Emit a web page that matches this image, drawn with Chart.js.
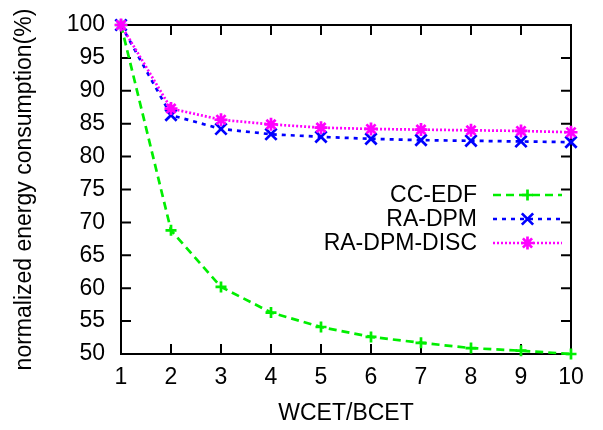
<!DOCTYPE html>
<html>
<head>
<meta charset="utf-8">
<script src="https://cdn.jsdelivr.net/npm/chart.js@4"></script>
<style>
  html, body { margin: 0; padding: 0; background: #fff; }
  #wrap { width: 603px; height: 430px; }
</style>
</head>
<body>
<div id="wrap"><canvas id="grafico"></canvas></div>
<script>
// dados
const ratios = [1, 2, 3, 4, 5, 6, 7, 8, 9, 10];
const ccEdf = [100, 68.8, 60.2, 56.3, 54.1, 52.6, 51.7, 50.9, 50.5, 50.0];
const raDpm = [100, 86.3, 84.2, 83.4, 83.0, 82.7, 82.5, 82.4, 82.3, 82.2];
const raDpmDisc = [100, 87.3, 85.6, 84.9, 84.4, 84.2, 84.1, 84.0, 83.9, 83.7];
const yTicks = [50, 55, 60, 65, 70, 75, 80, 85, 90, 95, 100];

const familia = "'Liberation Sans', Arial, sans-serif";
const fonte = { family: familia, size: 23 };

function pontos(valores) {
  return ratios.map((x, i) => ({ x: x, y: valores[i] }));
}

// moldura com marcas internas (estilo gnuplot)
const moldura = {
  id: 'moldura',
  beforeDatasetsDraw(chart) {
    const ctx = chart.ctx;
    const a = chart.chartArea;
    const sx = chart.scales.x, sy = chart.scales.y;
    const len = 10;
    ctx.save();
    ctx.strokeStyle = '#000';
    ctx.lineWidth = 2;
    ctx.beginPath();
    ratios.forEach(v => {
      const px = sx.getPixelForValue(v);
      ctx.moveTo(px, a.bottom); ctx.lineTo(px, a.bottom - len);
      ctx.moveTo(px, a.top); ctx.lineTo(px, a.top + len);
    });
    yTicks.forEach(v => {
      const py = sy.getPixelForValue(v);
      ctx.moveTo(a.left, py); ctx.lineTo(a.left + len, py);
      ctx.moveTo(a.right, py); ctx.lineTo(a.right - len, py);
    });
    ctx.stroke();
    ctx.strokeRect(a.left, a.top, a.right - a.left, a.bottom - a.top);
    ctx.restore();
  }
};

// legenda dentro do gráfico: texto à direita, amostra da linha depois
const legenda = {
  id: 'legenda',
  afterDraw(chart) {
    const ctx = chart.ctx;
    const linhasY = [195, 219, 243];
    const textoX = 477, x0 = 493, x1 = 562;
    ctx.save();
    ctx.font = fonte.size + 'px ' + fonte.family;
    ctx.textAlign = 'right';
    ctx.textBaseline = 'middle';
    chart.data.datasets.forEach((ds, i) => {
      const y = linhasY[i];
      ctx.fillStyle = '#000';
      ctx.fillText(ds.label, textoX, y + 1);
      ctx.strokeStyle = ds.borderColor;
      ctx.lineWidth = ds.borderWidth;
      ctx.setLineDash(ds.borderDash);
      ctx.beginPath();
      ctx.moveTo(x0, y); ctx.lineTo(x1, y);
      ctx.stroke();
      ctx.setLineDash([]);
      Chart.helpers.drawPoint(ctx, {
        pointStyle: ds.pointStyle,
        radius: ds.pointRadius,
        borderWidth: ds.pointBorderWidth,
        rotation: 0
      }, (x0 + x1) / 2, y);
    });
    ctx.restore();
  }
};

const ctx = document.getElementById('grafico').getContext('2d');

const grafico = new Chart(ctx, {
  type: 'line',
  data: {
    datasets: [{
      label: 'CC-EDF',
      data: pontos(ccEdf),
      borderColor: '#00ee00',
      backgroundColor: '#00ee00',
      borderWidth: 2.7,
      borderDash: [8, 5],
      pointStyle: 'cross',
      pointRadius: 5.5,
      pointBorderWidth: 2.7,
      fill: false,
      tension: 0,
      clip: false,
      order: 2
    },
    {
      label: 'RA-DPM',
      data: pontos(raDpm),
      borderColor: '#0000ff',
      backgroundColor: '#0000ff',
      borderWidth: 2.7,
      borderDash: [4, 5],
      pointStyle: 'crossRot',
      pointRadius: 8,
      pointBorderWidth: 2.7,
      fill: false,
      tension: 0,
      clip: false,
      order: 1
    },
    {
      label: 'RA-DPM-DISC',
      data: pontos(raDpmDisc),
      borderColor: '#ff00ff',
      backgroundColor: '#ff00ff',
      borderWidth: 2.7,
      borderDash: [2, 2],
      pointStyle: 'star',
      pointRadius: 6.5,
      pointBorderWidth: 2.7,
      fill: false,
      tension: 0,
      clip: false,
      order: 0
    }]
  },
  options: {
    responsive: true,
    maintainAspectRatio: false,
    animation: false,
    layout: { padding: { top: 25, right: 32, left: 0, bottom: 0 } },
    plugins: {
      legend: { display: false },
      title: { display: false },
      tooltip: { enabled: false }
    },
    scales: {
      x: {
        type: 'linear',
        min: 1,
        max: 10,
        afterBuildTicks: s => { s.ticks = ratios.map(v => ({ value: v })); },
        afterFit: s => { s.height = 76; s.paddingLeft = 0; s.paddingRight = 0; },
        border: { display: false },
        grid: { display: false, drawTicks: false },
        ticks: { color: '#000', font: fonte, padding: 10, maxRotation: 0 },
        title: {
          display: true,
          text: 'WCET/BCET',
          color: '#000',
          font: fonte,
          padding: { top: 0, bottom: 3 }
        }
      },
      y: {
        min: 50,
        max: 100,
        afterBuildTicks: s => { s.ticks = yTicks.map(v => ({ value: v })); },
        afterFit: s => { s.width = 121; s.paddingTop = 0; s.paddingBottom = 0; },
        border: { display: false },
        grid: { display: false, drawTicks: false },
        ticks: { color: '#000', font: fonte, padding: 16 },
        title: {
          display: true,
          text: 'normalized energy consumption(%)',
          color: '#000',
          font: fonte,
          padding: { top: 11, bottom: 0 }
        }
      }
    }
  },
  plugins: [moldura, legenda]
});
</script>
</body>
</html>
